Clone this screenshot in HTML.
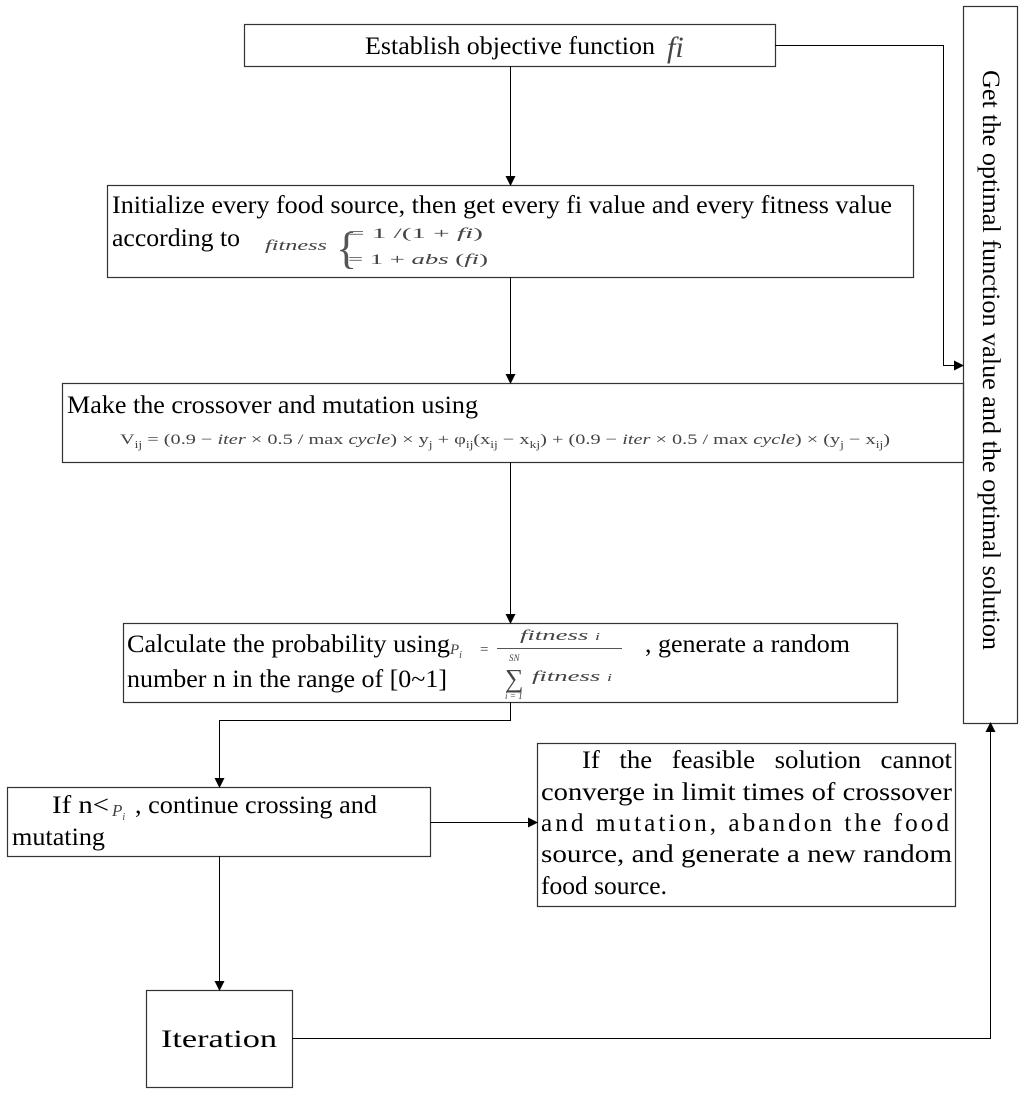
<!DOCTYPE html>
<html><head><meta charset="utf-8"><style>body{margin:0;background:#fff}svg{display:block}text,tspan{font-family:"Liberation Serif","Times New Roman",serif}</style></head><body>
<svg width="1024" height="1096" viewBox="0 0 1024 1096" xmlns="http://www.w3.org/2000/svg" fill="#000">
<defs><marker id="a" markerWidth="10" markerHeight="10" refX="9" refY="5" orient="auto" markerUnits="userSpaceOnUse"><path d="M0,0 L10,5 L0,10 z"/></marker></defs>
<g fill="none" stroke="#333" stroke-width="1.2">
<rect x="244.5" y="24.5" width="531" height="42"/>
<rect x="107.5" y="185.5" width="806" height="92"/>
<rect x="62.5" y="383.5" width="901" height="79"/>
<rect x="123.5" y="623.5" width="774" height="79"/>
<rect x="7.5" y="787.5" width="423" height="69"/>
<rect x="537.5" y="743.5" width="418" height="163"/>
<rect x="146.5" y="990.5" width="146" height="97"/>
<rect x="963.5" y="6.5" width="54" height="717"/>
</g>
<g fill="none" stroke="#000" stroke-width="1" marker-end="url(#a)">
<path d="M510.5 66V185"/>
<path d="M510.5 277V383"/>
<path d="M510.5 462V623"/>
<path d="M510.5 702V720.5H219.5V787"/>
<path d="M430 822.5H537"/>
<path d="M219.5 856V990"/>
<path d="M292 1038.5H990.5V723"/>
<path d="M775 45.5H943.5V365.5H963"/>
</g>
<g font-size="25">
<text x="365" y="54" textLength="290" lengthAdjust="spacingAndGlyphs">Establish objective function</text>
<text x="667" y="57" font-size="30" font-style="italic" fill="#444">fi</text>
<text x="112" y="213" textLength="780" lengthAdjust="spacingAndGlyphs">Initialize every food source, then get every fi value and every fitness value</text>
<text x="112" y="246" textLength="128" lengthAdjust="spacingAndGlyphs">according to</text>
<text x="67" y="413" textLength="411" lengthAdjust="spacingAndGlyphs">Make the crossover and mutation using</text>
<text x="127" y="652" textLength="323" lengthAdjust="spacingAndGlyphs">Calculate the probability using</text>
<text x="645" y="652" textLength="205" lengthAdjust="spacingAndGlyphs">, generate a random</text>
<text x="127" y="687" textLength="320" lengthAdjust="spacingAndGlyphs">number n in the range of [0~1]</text>
<text x="52" y="813" textLength="57" lengthAdjust="spacingAndGlyphs">If n&lt;</text>
<text x="135" y="813" textLength="242" lengthAdjust="spacingAndGlyphs">, continue crossing and</text>
<text x="12" y="845" textLength="93" lengthAdjust="spacingAndGlyphs">mutating</text>
<text x="582" y="768" textLength="370" lengthAdjust="spacingAndGlyphs" word-spacing="12">If the feasible solution cannot</text>
<text x="541" y="800" textLength="411" lengthAdjust="spacingAndGlyphs">converge in limit times of crossover</text>
<text x="541" y="831" textLength="411" lengthAdjust="spacingAndGlyphs" letter-spacing="3">and mutation, abandon the food</text>
<text x="541" y="862" textLength="411" lengthAdjust="spacingAndGlyphs">source, and generate a new random</text>
<text x="541" y="894" textLength="126" lengthAdjust="spacingAndGlyphs">food source.</text>
<text x="219" y="1047" text-anchor="middle" textLength="116" lengthAdjust="spacingAndGlyphs">Iteration</text>
<text transform="translate(983,70) rotate(90)" x="0" y="0" textLength="580" lengthAdjust="spacingAndGlyphs">Get the optimal function value and the optimal solution</text>
</g>
<g fill="#444" font-size="15">
<text x="265" y="250" font-style="italic" textLength="62" lengthAdjust="spacingAndGlyphs">fitness</text>
<text x="336" y="263" font-size="44" fill="#555">{</text>
<text x="348" y="238" textLength="135" lengthAdjust="spacingAndGlyphs">= 1 /(1 + <tspan font-style="italic">fi</tspan>)</text>
<text x="348" y="264" textLength="140" lengthAdjust="spacingAndGlyphs">= 1 + <tspan font-style="italic">abs</tspan> (<tspan font-style="italic">fi</tspan>)</text>
<text x="120" y="444" textLength="770" lengthAdjust="spacingAndGlyphs">V<tspan font-size="10" dy="4">ij</tspan><tspan dy="-4"> = (0.9 − </tspan><tspan font-style="italic">iter</tspan> × 0.5 / max <tspan font-style="italic">cycle</tspan>) × y<tspan font-size="10" dy="4">j</tspan><tspan dy="-4"> + φ</tspan><tspan font-size="10" dy="4">ij</tspan><tspan dy="-4">(x</tspan><tspan font-size="10" dy="4">ij</tspan><tspan dy="-4"> − x</tspan><tspan font-size="10" dy="4">kj</tspan><tspan dy="-4">) + (0.9 − </tspan><tspan font-style="italic">iter</tspan> × 0.5 / max <tspan font-style="italic">cycle</tspan>) × (y<tspan font-size="10" dy="4">j</tspan><tspan dy="-4"> − x</tspan><tspan font-size="10" dy="4">ij</tspan><tspan dy="-4">)</tspan></text>
<text x="450" y="654" font-style="italic">P<tspan font-size="10" dy="4">i</tspan></text>
<text x="480" y="654">=</text>
<text x="520" y="640" font-style="italic" textLength="80" lengthAdjust="spacingAndGlyphs">fitness <tspan font-size="10">i</tspan></text>
<line x1="497" y1="648.5" x2="622" y2="648.5" stroke="#555" stroke-width="1"/>
<text x="509" y="661" font-size="9" font-style="italic">SN</text>
<text x="505" y="687" font-size="26">∑</text>
<text x="505" y="699" font-size="9" font-style="italic">i = 1</text>
<text x="532" y="681" font-style="italic" textLength="80" lengthAdjust="spacingAndGlyphs">fitness <tspan font-size="10">i</tspan></text>
<text x="112" y="816" font-style="italic" font-size="17">P<tspan font-size="10" dy="4">i</tspan></text>
</g>
</svg>
</body></html>
